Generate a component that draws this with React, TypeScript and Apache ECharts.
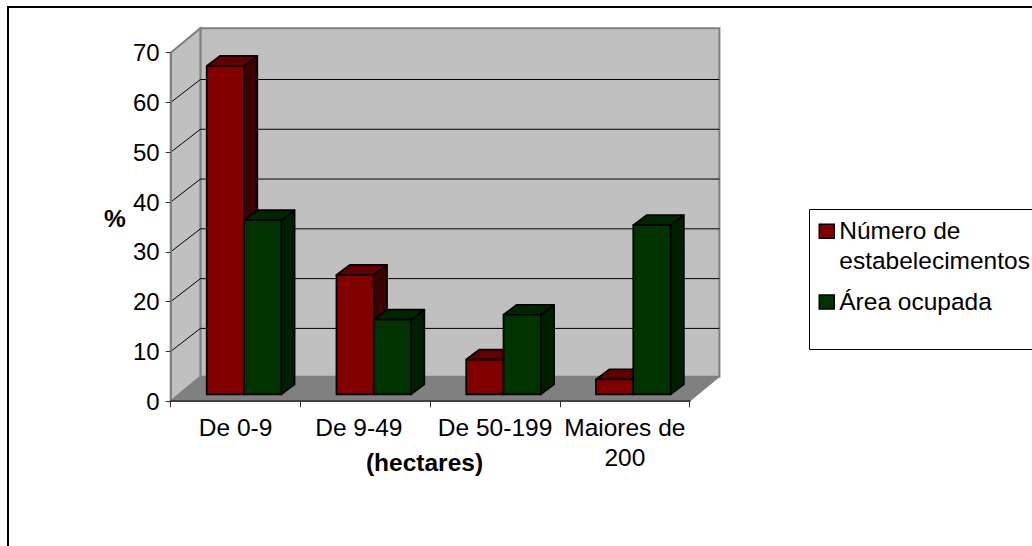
import React, { useEffect, useRef } from "react";
import * as echarts from "echarts";

const categories = ["De 0-9", "De 9-49", "De 50-199", "Maiores de\n200"];
const numeroEstabelecimentos = [66, 24, 7, 3];
const areaOcupada = [35, 15, 16, 34];
const valueTicks = [0, 10, 20, 30, 40, 50, 60, 70];
const seriesNames = ["Número de\nestabelecimentos", "Área ocupada"];
const yAxisName = "%";
const xAxisName = "(hectares)";

const FONT = "'Liberation Sans', Arial, sans-serif";
const FS = 24.5;
const DX = 29.7; // full depth of the floor
const DY = 24.5;
const GRID_DY = 23;
const BAR_W = 37.3;
const BAR_SHIFT_X = 8; // bars stand in the middle of the depth
const BAR_SHIFT_Y = 6.8;
const BAR_DX = 13.3;
const BAR_DY = 10;
const GAP = 28;

const pts = (a: number[][]) => ({ points: a });

function frameItem(_p: any, api: any) {
  const v = api.value(1);
  const band = api.size([1, 0])[0];
  const [c, y] = api.coord([0, v]);
  const l = c - band / 2;
  const r = l + band * categories.length;
  const children: any[] = [];
  if (v === 0) {
    const [, yTop] = api.coord([0, valueTicks[valueTicks.length - 1]]);
    const wall = { fill: "#c0c0c0", stroke: "#808080", lineWidth: 2 };
    children.push({
      type: "polygon",
      shape: pts([[l + DX, yTop - DY], [r + DX, yTop - DY], [r + DX, y - DY], [l + DX, y - DY]]),
      style: wall,
    });
    children.push({
      type: "polygon",
      shape: pts([[l, yTop], [l + DX, yTop - DY], [l + DX, y - DY], [l, y]]),
      style: wall,
    });
    children.push({
      type: "polygon",
      shape: pts([[l, y], [r, y], [r + DX, y - DY], [l + DX, y - DY]]),
      style: { fill: "#808080", stroke: "#808080", lineWidth: 1 },
    });
  } else if (v < valueTicks[valueTicks.length - 1]) {
    children.push({
      type: "polyline",
      shape: pts([[l, y], [l + DX, y - GRID_DY], [r + DX, y - GRID_DY]]),
      style: { fill: "none", stroke: "#000", lineWidth: 1 },
    });
  }
  return { type: "group", children };
}

const barItem = (slot: number, front: string, top: string, side: string) => (_p: any, api: any) => {
  const cat = api.value(0);
  const band = api.size([1, 0])[0];
  const base = api.coord([cat, 0]);
  const head = api.coord([cat, api.value(1)]);
  const x0 = base[0] - band / 2 + BAR_SHIFT_X + GAP + slot * BAR_W;
  const x1 = x0 + BAR_W;
  const y0 = base[1] - BAR_SHIFT_Y;
  const y1 = head[1] - BAR_SHIFT_Y;
  const line = { stroke: "#000", lineWidth: 1.7, lineJoin: "round" };
  return {
    type: "group",
    children: [
      {
        type: "polygon",
        shape: pts([[x1, y1], [x1 + BAR_DX, y1 - BAR_DY], [x1 + BAR_DX, y0 - BAR_DY], [x1, y0]]),
        style: { fill: side, ...line },
      },
      {
        type: "polygon",
        shape: pts([[x0, y1], [x0 + BAR_DX, y1 - BAR_DY], [x1 + BAR_DX, y1 - BAR_DY], [x1, y1]]),
        style: { fill: top, ...line },
      },
      {
        type: "polygon",
        shape: pts([[x0, y1], [x1, y1], [x1, y0], [x0, y0]]),
        style: { fill: front, ...line },
      },
    ],
  };
};

const legendLabel = (name: string) =>
  name === seriesNames[0]
    ? ["{b| }", ...name.split("\n").map((s) => `{a|${s}}`)].join("\n")
    : `{a|${name}}`;

export default function App() {
  const ref = useRef<HTMLDivElement>(null);
  useEffect(() => {
    document.body.style.margin = "0";
    const chart = echarts.init(ref.current!, undefined, { renderer: "svg" });
    chart.setOption({
      animation: false,
      backgroundColor: "#fff",
      textStyle: { fontFamily: FONT },
      grid: { left: 170.7, top: 52.7, width: 519, height: 348.5, containLabel: false },
      xAxis: {
        type: "category",
        data: categories,
        z: 3,
        axisLine: { lineStyle: { color: "#404040", width: 2 } },
        axisTick: { show: true, length: 6, alignWithLabel: false, lineStyle: { color: "#303030", width: 1 } },
        axisLabel: {
          color: "#000",
          fontSize: FS,
          fontFamily: FONT,
          lineHeight: 30.5,
          margin: 11,
          interval: 0,
          formatter: (v: string) => (v === categories[1] ? `{shift|${v}}` : v),
          rich: { shift: { padding: [0, 13, 0, 0], fontSize: FS, fontFamily: FONT, color: "#000", lineHeight: 30.5 } },
        },
      },
      yAxis: {
        type: "value",
        min: 0,
        max: 70,
        interval: 10,
        z: 3,
        splitLine: { show: false },
        axisLine: { show: true, lineStyle: { color: "#808080", width: 2 } },
        axisTick: { show: true, length: 5, lineStyle: { color: "#303030", width: 1 } },
        axisLabel: { color: "#000", fontSize: 24, fontFamily: FONT, margin: 11 },
      },
      legend: {
        orient: "vertical",
        left: 818.5,
        top: 188.25,
        padding: 0,
        itemWidth: 15,
        itemHeight: 14,
        itemGap: 13.25,
        selectedMode: false,
        formatter: legendLabel,
        textStyle: {
          color: "#000",
          fontSize: FS,
          fontFamily: FONT,
          rich: {
            a: { color: "#000", fontSize: FS, fontFamily: FONT, lineHeight: 30.5, padding: [0, 0, 2, 0] },
            b: { fontSize: FS, fontFamily: FONT, lineHeight: 30.5 },
          },
        },
        data: [
          { name: seriesNames[0], icon: "rect", itemStyle: { color: "#800000", borderColor: "#000", borderWidth: 1.5 } },
          { name: seriesNames[1], icon: "rect", itemStyle: { color: "#003300", borderColor: "#000", borderWidth: 1.5 } },
        ],
      },
      graphic: [
        { type: "rect", silent: true, shape: { x: 8, y: 7, width: 1200, height: 900 }, style: { fill: "none", stroke: "#000", lineWidth: 2 } },
        { type: "rect", silent: true, shape: { x: 809.5, y: 209.5, width: 400, height: 140 }, style: { fill: "#fff", stroke: "#000", lineWidth: 1 } },
        { type: "text", silent: true, x: 115, y: 218, style: { text: yAxisName, font: `bold ${FS}px ${FONT}`, fill: "#000", align: "center", verticalAlign: "middle" } },
        { type: "text", silent: true, x: 424.5, y: 462.5, style: { text: xAxisName, font: `bold ${FS}px ${FONT}`, fill: "#000", align: "center", verticalAlign: "middle" } },
      ],
      series: [
        { type: "custom", name: "frame", z: 1, silent: true, renderItem: frameItem, data: valueTicks.map((v) => [0, v]), encode: { x: 0, y: 1 } },
        {
          type: "custom",
          name: seriesNames[0],
          z: 2,
          renderItem: barItem(0, "#800000", "#620000", "#3c0000"),
          itemStyle: { color: "#800000" },
          data: numeroEstabelecimentos.map((v, i) => [i, v]),
          encode: { x: 0, y: 1 },
        },
        {
          type: "custom",
          name: seriesNames[1],
          z: 2,
          renderItem: barItem(1, "#003300", "#002600", "#001f00"),
          itemStyle: { color: "#003300" },
          data: areaOcupada.map((v, i) => [i, v]),
          encode: { x: 0, y: 1 },
        },
      ],
    });
    return () => chart.dispose();
  }, []);
  return <div ref={ref} style={{ width: 1032, height: 546 }} />;
}
